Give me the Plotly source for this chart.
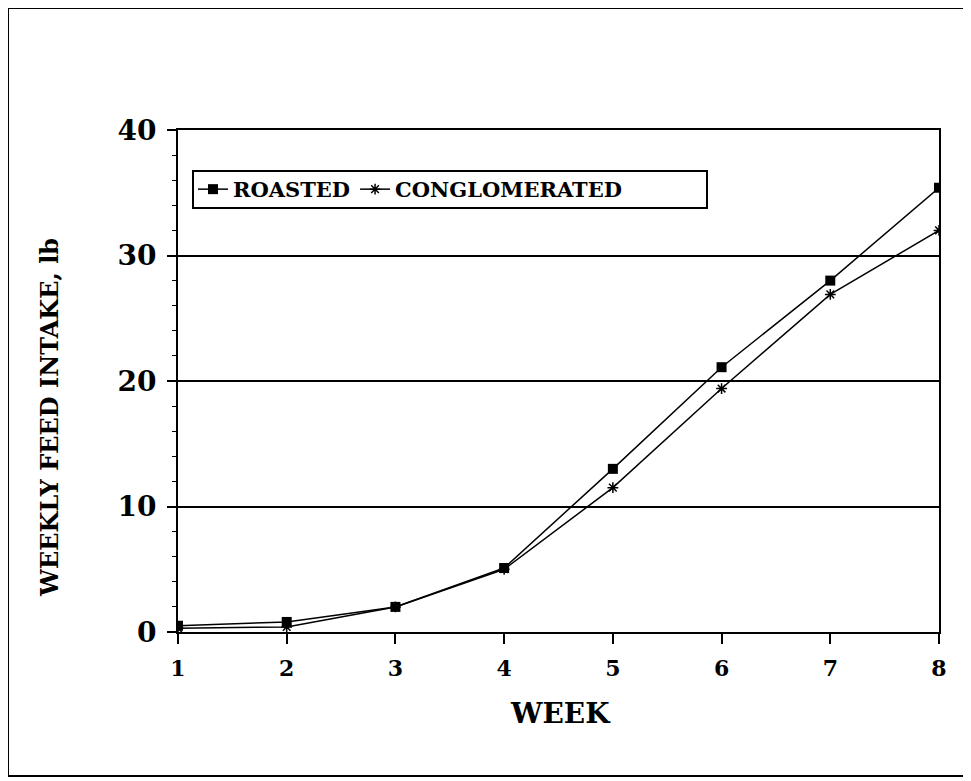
import plotly.graph_objects as go

weeks = [1, 2, 3, 4, 5, 6, 7, 8]
roasted = [0.5, 0.8, 2.0, 5.1, 13.0, 21.1, 28.0, 35.4]
conglomerated = [0.3, 0.4, 2.0, 5.0, 11.5, 19.4, 26.9, 32.0]
y_ticks = [0, 10, 20, 30, 40]
x_title = "WEEK"
y_title = "WEEKLY FEED INTAKE, lb"

SERIF = "DejaVu Serif, Liberation Serif, serif"

fig = go.Figure()
fig.add_trace(go.Scatter(
    x=weeks, y=roasted, name="ROASTED", mode="lines+markers",
    line=dict(color="black", width=1.5),
    marker=dict(symbol="square", size=10, color="black"),
))
fig.add_trace(go.Scatter(
    x=weeks, y=conglomerated, name="CONGLOMERATED", mode="lines+markers",
    line=dict(color="black", width=1.5),
    marker=dict(symbol="asterisk-open", size=9, color="black",
                line=dict(color="black", width=1.5)),
))

# page has an 8px body margin; work in page pixel coordinates
OFF = 8
PL, PR, PT, PB = 178, 939, 130, 632      # plot area in page pixels
W, H = 963, 773
L = PL - OFF
T = PT - OFF
R = W + OFF - PR
B = H + OFF - PB
pw, ph = PR - PL, PB - PT

def px2x(px):
    return (px - PL) / pw

def py2y(py):
    return (PB - py) / ph

fig.update_layout(
    width=W, height=H,
    margin=dict(l=L, r=R, t=T, b=B, pad=0),
    paper_bgcolor="white", plot_bgcolor="white",
    font=dict(family=SERIF, color="black"),
    showlegend=True,
    legend=dict(
        x=px2x(193), y=py2y(189.5), xanchor="left", yanchor="middle",
        orientation="h", bgcolor="rgba(0,0,0,0)", borderwidth=0,
        font=dict(family=SERIF, size=21, color="black", weight="bold"),
        itemwidth=30, tracegroupgap=0,
    ),
    xaxis=dict(
        range=[1, 8], tickvals=weeks, ticktext=[str(w) for w in weeks],
        showgrid=False, zeroline=False,
        showline=True, linecolor="black", linewidth=2, mirror=True,
        ticks="outside", ticklen=10, tickwidth=1.5, tickcolor="black",
        tickfont=dict(family=SERIF, size=22, color="black", weight="bold"),
        ticklabelstandoff=6,
    ),
    yaxis=dict(
        range=[0, 40], tickvals=y_ticks, ticktext=[str(v) for v in y_ticks],
        showgrid=True, gridcolor="black", gridwidth=1.5,
        zeroline=False,
        showline=True, linecolor="black", linewidth=2, mirror=True,
        ticks="outside", ticklen=9, tickwidth=1.5, tickcolor="black",
        minor=dict(dtick=2, ticks="outside", ticklen=4, tickwidth=1.2,
                   tickcolor="black", showgrid=False),
        tickfont=dict(family=SERIF, size=28, color="black", weight="bold"),
        ticklabelstandoff=5,
    ),
    shapes=[
        dict(type="rect", xref="paper", yref="paper",
             x0=px2x(8), x1=px2x(965), y0=py2y(776), y1=py2y(8),
             line=dict(color="black", width=2), fillcolor="rgba(0,0,0,0)", layer="below"),
        dict(type="rect", xref="paper", yref="paper",
             x0=px2x(193), x1=px2x(707), y0=py2y(208), y1=py2y(171),
             line=dict(color="black", width=2), fillcolor="white", layer="above"),
    ],
    annotations=[
        dict(text=x_title, xref="paper", yref="paper", x=px2x(560), y=py2y(713),
             xanchor="center", yanchor="middle", showarrow=False,
             font=dict(family=SERIF, size=28, color="black", weight="bold")),
        dict(text=y_title, xref="paper", yref="paper", x=px2x(50), y=py2y(418),
             xanchor="center", yanchor="middle", showarrow=False, textangle=-90,
             font=dict(family=SERIF, size=24, color="black", weight="bold")),
    ],
)

fig.write_html("out.html")
